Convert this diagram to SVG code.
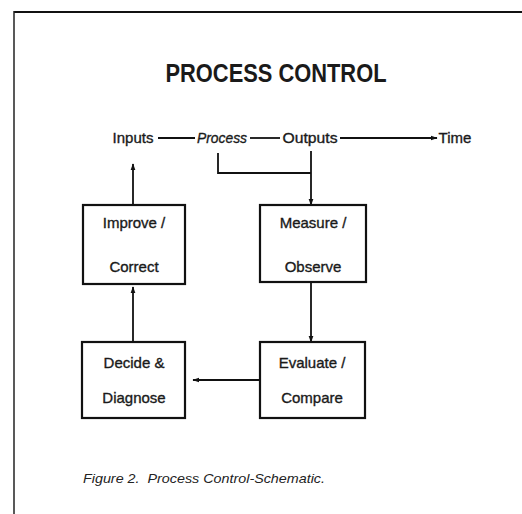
<svg xmlns="http://www.w3.org/2000/svg" width="522" height="514" viewBox="0 0 522 514">
<defs>
<style>
.box{fill:#fff;stroke:#111;stroke-width:2.2}
.lbl{font-family:"Liberation Sans",Arial,sans-serif;font-size:15px;fill:#1a1a1a;stroke:#1a1a1a;stroke-width:0.35;text-anchor:middle}
.ln{fill:none;stroke:#111;stroke-width:1.8}
</style>
<marker id="ah" viewBox="0 0 10 10" refX="9" refY="5" markerWidth="7" markerHeight="7" markerUnits="userSpaceOnUse" orient="auto">
<path d="M0,1.5 L10,5 L0,8.5 Z" fill="#111"/>
</marker>
</defs>
<rect x="0" y="0" width="522" height="514" fill="#fff"/>
<g id="frame">
<line x1="14" y1="12" x2="522" y2="12" stroke="#111" stroke-width="2.2"/>
<line x1="14" y1="11" x2="14" y2="514" stroke="#222" stroke-width="1.5"/>
</g>
<text x="276" y="82" font-family="'Liberation Sans',Arial,sans-serif" font-weight="bold" font-size="26" fill="#1a1a1a" text-anchor="middle" textLength="221" lengthAdjust="spacingAndGlyphs">PROCESS CONTROL</text>
<g id="timeline">
<text class="lbl" x="133" y="143">Inputs</text>
<text class="lbl" x="222" y="143" font-style="italic" textLength="50" lengthAdjust="spacingAndGlyphs">Process</text>
<text class="lbl" x="310" y="143" textLength="55" lengthAdjust="spacingAndGlyphs">Outputs</text>
<text class="lbl" x="455" y="143" text-anchor="middle">Time</text>
</g>
<g id="connectors">
<line class="ln" x1="158" y1="138" x2="195" y2="138"/>
<line class="ln" x1="250" y1="138" x2="280" y2="138"/>
<line class="ln" x1="340" y1="138" x2="437" y2="138" marker-end="url(#ah)"/>
<polyline class="ln" points="218,153 218,173 311,173"/>
<line class="ln" x1="311" y1="151" x2="311" y2="205" marker-end="url(#ah)"/>
<line class="ln" x1="133" y1="205" x2="133" y2="164" marker-end="url(#ah)"/>
<line class="ln" x1="311" y1="282" x2="311" y2="342" marker-end="url(#ah)"/>
<line class="ln" x1="260" y1="380" x2="193" y2="380" marker-end="url(#ah)"/>
<line class="ln" x1="133" y1="342" x2="133" y2="287" marker-end="url(#ah)"/>
</g>
<g id="improve">
<rect class="box" x="83" y="205" width="102" height="79"/>
<text class="lbl" x="134" y="228">Improve /</text>
<text class="lbl" x="134" y="272">Correct</text>
</g>
<g id="measure">
<rect class="box" x="260" y="205" width="106" height="77"/>
<text class="lbl" x="313" y="228">Measure /</text>
<text class="lbl" x="313" y="272">Observe</text>
</g>
<g id="decide">
<rect class="box" x="82" y="342" width="103" height="76"/>
<text class="lbl" x="134" y="368">Decide &amp;</text>
<text class="lbl" x="134" y="403">Diagnose</text>
</g>
<g id="evaluate">
<rect class="box" x="260" y="342" width="105" height="76"/>
<text class="lbl" x="312" y="368">Evaluate /</text>
<text class="lbl" x="312" y="403">Compare</text>
</g>
<text x="83" y="483" font-family="'Liberation Sans',Arial,sans-serif" font-style="italic" font-size="13" fill="#222" xml:space="preserve" textLength="242" lengthAdjust="spacingAndGlyphs">Figure 2.  Process Control-Schematic.</text>
</svg>
